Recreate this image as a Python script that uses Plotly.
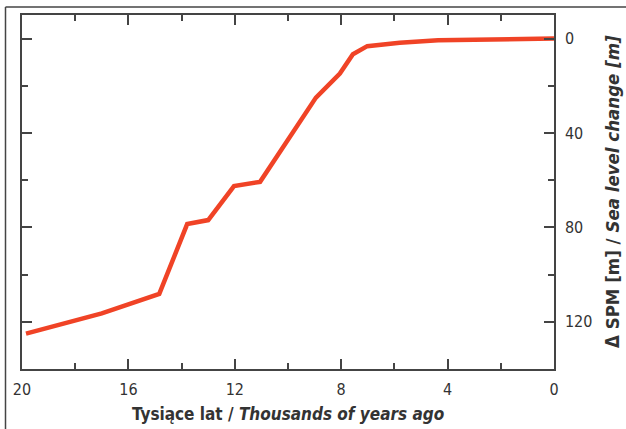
import plotly.graph_objects as go

# Data: thousands of years ago vs sea level change (m, depth below present)
years_ka = [19.85, 17.0, 14.84, 13.79, 13.0, 12.03, 11.05, 8.95, 8.05, 7.56, 7.02, 5.8, 4.36, 0.0]
sea_level = [125.0, 116.4, 108.2, 78.6, 76.9, 62.5, 60.7, 25.0, 14.8, 6.6, 3.2, 1.8, 0.7, 0.0]

x_ticks = [20, 16, 12, 8, 4, 0]
y_ticks = [0, 40, 80, 120]

FONT = "Liberation Sans Narrow, DejaVu Sans Condensed, Roboto Condensed, Roboto, sans-serif"
AX = "#444444"

fig = go.Figure()
fig.add_trace(go.Scatter(
    x=years_ka, y=sea_level, mode="lines",
    line=dict(color="#F04326", width=4.5),
    hoverinfo="skip", showlegend=False,
))

fig.update_xaxes(
    range=[20, 0], tickvals=x_ticks, ticktext=[str(v) for v in x_ticks],
    ticks="inside", ticklen=10, tickwidth=1.5, tickcolor=AX,
    minor=dict(ticks="inside", ticklen=6, tickwidth=1.5, tickcolor=AX, dtick=2, showgrid=False),
    showline=True, linecolor=AX, linewidth=1.5, mirror="ticks",
    showgrid=False, zeroline=False, ticklabelstandoff=5,
    tickfont=dict(family=FONT, size=16, color="#333333"),
)
fig.update_yaxes(
    range=[140, -10], side="right", tickvals=y_ticks, ticktext=[str(v) for v in y_ticks],
    ticks="inside", ticklen=10, tickwidth=1.5, tickcolor=AX,
    minor=dict(ticks="inside", ticklen=6, tickwidth=1.5, tickcolor=AX, dtick=20, showgrid=False),
    showline=True, linecolor=AX, linewidth=1.5, mirror="ticks",
    showgrid=False, zeroline=False, ticklabelstandoff=6,
    tickfont=dict(family=FONT, size=16, color="#333333"),
)

fig.add_annotation(
    xref="paper", yref="paper", x=0.5, y=-0.093, xanchor="center", yanchor="top",
    text="<b>Tysiące lat / <i>Thousands of years ago</i></b>", showarrow=False,
    font=dict(family=FONT, size=17, color="#333333"),
)
fig.add_annotation(
    xref="paper", yref="paper", x=1.0 + (612 - 554) / 532, y=0.50, xanchor="center", yanchor="middle",
    text="<b>Δ SPM [m] / <i>Sea level change [m]</i></b>", showarrow=False, textangle=-90,
    font=dict(family=FONT, size=18.5, color="#333333"),
)

# outer frame (top and left edges)
fig.add_shape(type="line", xref="paper", yref="paper",
              x0=(5.5 - 22) / 532, x1=(630 - 22) / 532,
              y0=1 + 8 / 354, y1=1 + 8 / 354, line=dict(color=AX, width=1.5))
fig.add_shape(type="line", xref="paper", yref="paper",
              x0=(5.5 - 22) / 532, x1=(5.5 - 22) / 532,
              y0=1 + 8 / 354, y1=(369 - 432) / 354, line=dict(color=AX, width=1.5))

fig.update_layout(
    width=626, height=429,
    margin=dict(l=22, r=72, t=15, b=60),
    paper_bgcolor="white", plot_bgcolor="white",
)

fig.write_html(
    "out.html",
    config={"displayModeBar": False},
    post_script="document.body.style.margin='0';document.body.style.overflow='hidden';",
)
